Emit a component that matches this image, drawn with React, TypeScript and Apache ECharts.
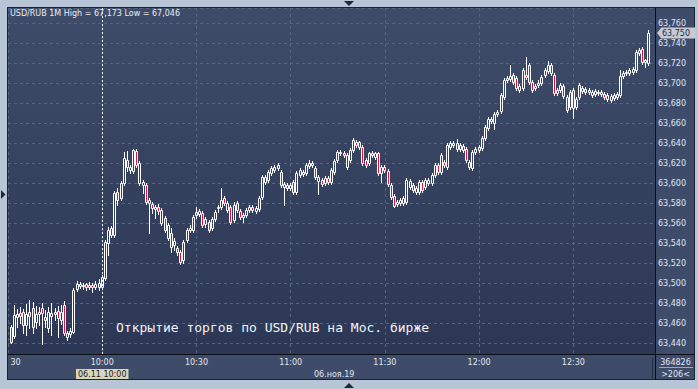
import React, { useEffect, useRef } from "react";
import * as echarts from "echarts";

// ---- texts ----
const titleText = "USD/RUB 1M High = 67,173 Low = 67,046";
const annotationText = "Открытие торгов по USD/RUB на Мос. бирже";
const dateText = "06.ноя.19";
const cursorTime = "10:00";
const cursorText = "06.11 10:00";
const volumeText = "364826";
const countText = ">206<";
const lastPrice = 63750;

// ---- axis ranges ----
const axisStartMin = 9 * 60 + 30; // 09:30
const axisEndMin = 12 * 60 + 56; // 12:56
const firstCandleMin = 9 * 60 + 31; // 09:31
const priceMin = 63429;
const priceMax = 63775;

// ---- 1-minute candles 09:31 .. 12:54 ----
const opens = [
  63456, 63447, 63466, 63470, 63471, 63458, 63471, 63475, 63461, 63469,
  63475, 63466, 63455, 63467, 63471, 63472, 63463, 63478, 63450, 63449,
  63451, 63494, 63499, 63497, 63499, 63496, 63498, 63496, 63500, 63496,
  63505, 63540, 63555, 63548, 63591, 63585, 63600, 63623, 63613, 63612,
  63632, 63600, 63598, 63598, 63580, 63579, 63574, 63576, 63560, 63565,
  63545, 63550, 63538, 63535, 63531, 63523, 63543, 63553, 63553, 63568,
  63569, 63570, 63559, 63561, 63555, 63564, 63575, 63576, 63585, 63573,
  63576, 63563, 63580, 63572, 63566, 63568, 63573, 63576, 63572, 63574,
  63586, 63601, 63603, 63610, 63613, 63615, 63611, 63596, 63598, 63595,
  63601, 63591, 63608, 63611, 63610, 63620, 63618, 63615, 63602, 63603,
  63600, 63605, 63601, 63611, 63623, 63630, 63630, 63616, 63623, 63633,
  63641, 63641, 63636, 63623, 63620, 63628, 63626, 63630, 63610, 63616,
  63612, 63598, 63587, 63579, 63580, 63580, 63581, 63596, 63598, 63591,
  63591, 63601, 63596, 63600, 63600, 63608, 63618, 63611, 63621, 63616,
  63636, 63638, 63640, 63634, 63637, 63634, 63621, 63615, 63631, 63633,
  63635, 63645, 63655, 63662, 63660, 63669, 63672, 63686, 63703, 63704,
  63708, 63705, 63693, 63695, 63708, 63718, 63701, 63695, 63698, 63700,
  63708, 63712, 63718, 63708, 63690, 63693, 63697, 63686, 63676, 63693,
  63676, 63686, 63692, 63694, 63691, 63688, 63689, 63690, 63689, 63689,
  63688, 63683, 63685, 63686, 63688, 63707, 63710, 63710, 63711, 63713,
  63730, 63734, 63721, 63720,
];
const closes = [
  63441, 63468, 63469, 63467, 63458, 63469, 63467, 63456, 63469, 63471,
  63470, 63463, 63471, 63470, 63469, 63465, 63471, 63450, 63446, 63452,
  63493, 63499, 63497, 63498, 63496, 63498, 63496, 63499, 63496, 63506,
  63541, 63553, 63548, 63590, 63583, 63600, 63625, 63616, 63616, 63633,
  63618, 63620, 63601, 63581, 63583, 63575, 63576, 63572, 63573, 63553,
  63558, 63536, 63542, 63531, 63521, 63541, 63553, 63555, 63566, 63571,
  63572, 63558, 63564, 63553, 63564, 63571, 63576, 63583, 63580, 63580,
  63561, 63578, 63573, 63566, 63568, 63573, 63576, 63573, 63575, 63585,
  63606, 63606, 63611, 63615, 63616, 63618, 63598, 63599, 63595, 63598,
  63591, 63610, 63613, 63609, 63618, 63617, 63620, 63606, 63606, 63599,
  63605, 63601, 63613, 63622, 63631, 63631, 63628, 63628, 63633, 63643,
  63638, 63636, 63620, 63618, 63630, 63630, 63630, 63610, 63616, 63613,
  63599, 63586, 63577, 63581, 63583, 63585, 63603, 63602, 63593, 63595,
  63601, 63593, 63603, 63603, 63608, 63618, 63611, 63628, 63618, 63638,
  63640, 63640, 63634, 63638, 63633, 63623, 63616, 63631, 63634, 63636,
  63645, 63656, 63664, 63664, 63669, 63671, 63688, 63703, 63705, 63707,
  63701, 63695, 63697, 63713, 63706, 63701, 63693, 63697, 63700, 63706,
  63713, 63718, 63710, 63690, 63693, 63698, 63687, 63673, 63691, 63675,
  63684, 63698, 63695, 63691, 63693, 63691, 63692, 63691, 63691, 63686,
  63684, 63687, 63688, 63689, 63707, 63710, 63711, 63713, 63714, 63731,
  63733, 63721, 63723, 63750,
];
const lows = [
  63440, 63445, 63456, 63460, 63450, 63448, 63455, 63450, 63455, 63458,
  63439, 63456, 63451, 63448, 63463, 63446, 63459, 63448, 63443, 63446,
  63450, 63492, 63495, 63494, 63493, 63494, 63491, 63494, 63493, 63494,
  63503, 63528, 63546, 63546, 63578, 63583, 63598, 63612, 63610, 63610,
  63616, 63598, 63590, 63579, 63550, 63570, 63565, 63569, 63558, 63551,
  63543, 63531, 63533, 63528, 63519, 63520, 63541, 63551, 63551, 63565,
  63567, 63556, 63556, 63551, 63553, 63562, 63571, 63574, 63578, 63571,
  63559, 63561, 63571, 63564, 63561, 63566, 63571, 63571, 63570, 63572,
  63584, 63599, 63601, 63608, 63611, 63613, 63596, 63578, 63593, 63593,
  63589, 63589, 63606, 63607, 63608, 63615, 63616, 63604, 63589, 63597,
  63598, 63599, 63599, 63609, 63621, 63628, 63626, 63614, 63621, 63631,
  63636, 63634, 63618, 63616, 63618, 63626, 63624, 63608, 63601, 63611,
  63597, 63584, 63576, 63577, 63578, 63578, 63579, 63594, 63591, 63589,
  63589, 63591, 63594, 63598, 63598, 63606, 63609, 63609, 63616, 63614,
  63634, 63636, 63632, 63632, 63631, 63621, 63614, 63613, 63629, 63631,
  63633, 63643, 63653, 63660, 63654, 63667, 63670, 63684, 63701, 63702,
  63699, 63693, 63691, 63693, 63704, 63699, 63691, 63693, 63696, 63698,
  63706, 63710, 63708, 63688, 63688, 63691, 63685, 63671, 63674, 63665,
  63674, 63684, 63690, 63689, 63689, 63686, 63687, 63688, 63687, 63684,
  63682, 63681, 63683, 63684, 63686, 63705, 63708, 63708, 63709, 63711,
  63728, 63719, 63716, 63718,
];
const highs = [
  63458, 63478, 63474, 63476, 63474, 63479, 63483, 63481, 63477, 63476,
  63480, 63473, 63476, 63480, 63475, 63477, 63478, 63482, 63452, 63455,
  63495, 63502, 63501, 63500, 63500, 63501, 63500, 63502, 63504, 63508,
  63543, 63556, 63557, 63592, 63595, 63602, 63631, 63632, 63618, 63634,
  63634, 63622, 63603, 63600, 63585, 63581, 63578, 63579, 63575, 63567,
  63560, 63555, 63545, 63537, 63533, 63543, 63555, 63558, 63568, 63576,
  63574, 63572, 63566, 63563, 63566, 63573, 63578, 63595, 63587, 63582,
  63578, 63581, 63582, 63574, 63570, 63575, 63578, 63578, 63577, 63587,
  63608, 63608, 63613, 63617, 63618, 63620, 63613, 63601, 63600, 63600,
  63603, 63612, 63615, 63613, 63620, 63623, 63622, 63617, 63608, 63605,
  63607, 63607, 63615, 63624, 63633, 63633, 63632, 63630, 63635, 63645,
  63643, 63642, 63638, 63625, 63631, 63632, 63631, 63631, 63618, 63618,
  63614, 63600, 63589, 63583, 63585, 63587, 63605, 63604, 63600, 63597,
  63603, 63603, 63605, 63605, 63610, 63620, 63620, 63630, 63623, 63640,
  63642, 63642, 63644, 63640, 63639, 63636, 63623, 63633, 63636, 63638,
  63647, 63658, 63666, 63666, 63671, 63673, 63690, 63705, 63707, 63718,
  63710, 63707, 63699, 63715, 63726, 63720, 63703, 63699, 63703, 63708,
  63715, 63722, 63720, 63710, 63695, 63700, 63699, 63688, 63693, 63695,
  63686, 63700, 63697, 63696, 63695, 63693, 63694, 63693, 63693, 63691,
  63690, 63689, 63690, 63691, 63713, 63712, 63713, 63715, 63716, 63733,
  63735, 63736, 63724, 63753,
];

// ---- colours ----
const OUTER = "#b8c5d6";
const PANEL = "#3e4c69";
const PLOT_TOP = "#3f4c69";
const PLOT_BOTTOM = "#2b3754";
const GRID = "#56647f";
const LABEL = "#e0e6f1";
const LINE_DARK = "#0c0f16";
const DOWN_FILL = "#e3103c";
const CANDLE_BORDER = "#ffffff";
const FONT = "DejaVu Sans";

function fmtTime(total: number): string {
  const h = Math.floor(total / 60);
  const m = total % 60;
  return (h < 10 ? "0" : "") + h + ":" + (m < 10 ? "0" : "") + m;
}

const axisTimes: string[] = [];
for (let t = axisStartMin; t <= axisEndMin; t++) axisTimes.push(fmtTime(t));
const candleTimes = opens.map((_, i) => fmtTime(firstCandleMin + i));

function fmtPrice(v: number): string {
  const r = Math.round(v);
  return Math.floor(r / 1000) + "," + String(r % 1000).padStart(3, "0");
}

const isMajor = (_i: number, v: string) => v.endsWith(":00") || v.endsWith(":30");

function renderCandle(_params: any, api: any) {
  const idx = api.value(0);
  const o = api.value(1);
  const c = api.value(2);
  const l = api.value(3);
  const h = api.value(4);
  const pO = api.coord([idx, o]);
  const pC = api.coord([idx, c]);
  const pL = api.coord([idx, l]);
  const pH = api.coord([idx, h]);
  const col = Math.floor(pO[0]);
  const yTop = Math.round(Math.min(pO[1], pC[1]));
  const yBot = Math.round(Math.max(pO[1], pC[1]));
  const yHi = Math.round(pH[1]);
  const yLo = Math.round(pL[1]);
  const down = c < o;
  const children: any[] = [];
  if (yHi < yTop) {
    children.push({ type: "line", shape: { x1: col + 0.5, y1: yHi, x2: col + 0.5, y2: yTop }, style: { stroke: CANDLE_BORDER, lineWidth: 1 } });
  }
  if (yLo > yBot) {
    children.push({ type: "line", shape: { x1: col + 0.5, y1: yBot + 1, x2: col + 0.5, y2: yLo + 1 }, style: { stroke: CANDLE_BORDER, lineWidth: 1 } });
  }
  children.push({
    type: "rect",
    shape: { x: col - 0.5, y: yTop + 0.5, width: 2, height: Math.max(yBot - yTop, 0) },
    style: { fill: down ? DOWN_FILL : "none", stroke: CANDLE_BORDER, lineWidth: 1 },
  });
  return { type: "group", children };
}

export default function App() {
  const ref = useRef<HTMLDivElement>(null);

  useEffect(() => {
    if (!ref.current) return;
    const chart = echarts.init(ref.current, null, { renderer: "svg" });

    const seriesData = candleTimes.map((t, i) => [axisTimes.indexOf(t), opens[i], closes[i], lows[i], highs[i]]);

    chart.setOption({
      animation: false,
      backgroundColor: OUTER,
      textStyle: { fontFamily: FONT },
      title: {
        text: titleText,
        left: 10,
        top: 9,
        padding: 0,
        textStyle: { color: "#e8edf5", fontSize: 8, fontWeight: "normal", fontFamily: FONT },
      },
      grid: { left: 8, right: 43, top: 8, bottom: 35, containLabel: false },
      xAxis: {
        type: "category",
        data: axisTimes,
        boundaryGap: false,
        axisLine: { show: false },
        axisTick: { show: false },
        axisLabel: {
          interval: isMajor,
          formatter: (v: string) => (v === fmtTime(axisStartMin) ? "{f|30}" : v),
          color: LABEL,
          fontSize: 8,
          fontFamily: FONT,
          margin: 4,
          rich: { f: { padding: [0, 0, 0, 15], color: LABEL, fontSize: 8, fontFamily: FONT } },
        },
        splitLine: { show: true, interval: isMajor, lineStyle: { color: GRID, type: [3, 3], width: 1 } },
      },
      yAxis: {
        type: "value",
        position: "right",
        min: priceMin,
        max: priceMax,
        splitNumber: 17,
        minInterval: 20,
        maxInterval: 20,
        axisLine: { show: false },
        axisTick: { show: false },
        axisLabel: {
          formatter: (v: number) => (Math.round(v) % 20 === 0 ? fmtPrice(v) : ""),
          color: LABEL,
          fontSize: 8,
          fontFamily: FONT,
          margin: 3,
        },
        splitLine: { show: true, lineStyle: { color: GRID, type: [3, 3], width: 1 } },
      },
      series: [
        {
          type: "custom",
          data: seriesData,
          encode: { x: 0, y: [1, 2, 3, 4] },
          renderItem: renderCandle,
          silent: true,
          clip: true,
        },
      ],
    });

    const cx = chart.convertToPixel({ xAxisIndex: 0 }, cursorTime) as number;
    const py = chart.convertToPixel({ yAxisIndex: 0 }, lastPrice) as number;
    const crossX = Math.floor(cx) + 0.5;
    const tri = "#1d2842";

    chart.setOption({
      graphic: [
        // panel and plot backgrounds
        { type: "rect", z: -2, silent: true, shape: { x: 7, y: 7, width: 688, height: 373 }, style: { fill: PANEL } },
        {
          type: "rect",
          z: -1,
          silent: true,
          shape: { x: 8, y: 8, width: 647, height: 346 },
          style: {
            fill: new echarts.graphic.LinearGradient(0, 0, 0, 1, [
              { offset: 0, color: PLOT_TOP },
              { offset: 1, color: PLOT_BOTTOM },
            ]),
          },
        },
        // cursor line
        { type: "line", z: 40, silent: true, shape: { x1: crossX, y1: 8, x2: crossX, y2: 354 }, style: { stroke: "#eef1f6", lineWidth: 1, lineDash: [2, 2] } },
        // frame and separators
        { type: "rect", z: 50, silent: true, shape: { x: 7.5, y: 7.5, width: 687, height: 372 }, style: { fill: "none", stroke: "#1a2131", lineWidth: 1 } },
        { type: "line", z: 50, silent: true, shape: { x1: 8, y1: 354.5, x2: 695, y2: 354.5 }, style: { stroke: LINE_DARK, lineWidth: 1 } },
        { type: "line", z: 50, silent: true, shape: { x1: 655.5, y1: 8, x2: 655.5, y2: 380 }, style: { stroke: LINE_DARK, lineWidth: 1 } },
        { type: "line", z: 50, silent: true, shape: { x1: 652.5, y1: 358, x2: 652.5, y2: 379 }, style: { stroke: "#252e44", lineWidth: 1 } },
        { type: "line", z: 50, silent: true, shape: { x1: 659, y1: 367.5, x2: 693, y2: 367.5 }, style: { stroke: "#9ba7bd", lineWidth: 1 } },
        // bottom-right counters
        { type: "text", z: 50, silent: true, x: 675.5, y: 362, style: { text: volumeText, fill: LABEL, fontSize: 8, fontFamily: FONT, align: "center", verticalAlign: "middle" } },
        { type: "text", z: 50, silent: true, x: 675.5, y: 374, style: { text: countText, fill: LABEL, fontSize: 8, fontFamily: FONT, align: "center", verticalAlign: "middle" } },
        // date
        { type: "text", z: 50, silent: true, x: 314, y: 374, style: { text: dateText, fill: LABEL, fontSize: 8, fontFamily: FONT, align: "left", verticalAlign: "middle" } },
        // cursor label
        {
          type: "text",
          z: 60,
          silent: true,
          x: cx,
          y: 374,
          style: {
            text: cursorText,
            fill: "#1b1b1b",
            fontSize: 8,
            fontFamily: FONT,
            align: "center",
            verticalAlign: "middle",
            backgroundColor: "#d8d5bd",
            padding: [1, 2, 1, 2],
          },
        },
        // last price marker
        { type: "polygon", z: 60, silent: true, shape: { points: [[657, py], [661, py - 5], [661, py + 5]] }, style: { fill: "#c6cad2" } },
        { type: "rect", z: 60, silent: true, shape: { x: 661, y: py - 5.5, width: 34, height: 11 }, style: { fill: "#c6cad2" } },
        { type: "text", z: 61, silent: true, x: 662, y: py, style: { text: fmtPrice(lastPrice), fill: "#1c2a48", fontSize: 8, fontFamily: FONT, align: "left", verticalAlign: "middle" } },
        // annotation
        {
          type: "text",
          z: 60,
          silent: true,
          x: 116,
          y: 327,
          style: { text: annotationText, fill: "#f2f4f8", fontSize: 13, fontFamily: "DejaVu Sans Mono", align: "left", verticalAlign: "middle" },
        },
        // splitter arrows
        { type: "polygon", z: 60, silent: true, shape: { points: [[344, 1], [354, 1], [349, 6]] }, style: { fill: tri } },
        { type: "polygon", z: 60, silent: true, shape: { points: [[344, 388], [354, 388], [349, 383]] }, style: { fill: tri } },
        { type: "polygon", z: 60, silent: true, shape: { points: [[1, 190], [1, 199], [5.5, 194.5]] }, style: { fill: tri } },
      ],
    });

    return () => chart.dispose();
  }, []);

  return <div ref={ref} style={{ position: "absolute", left: 0, top: 0, width: 698, height: 389 }} />;
}
